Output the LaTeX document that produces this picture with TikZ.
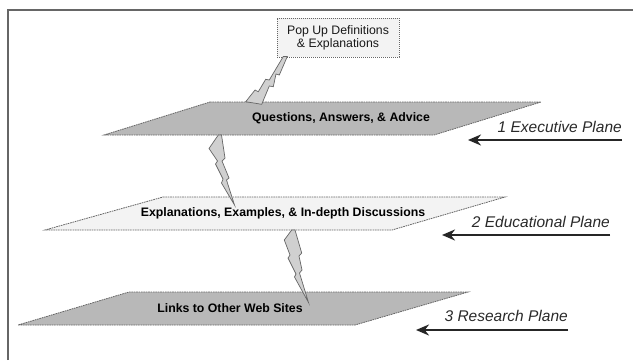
\documentclass[tikz,border=0pt]{standalone}
\usepackage{fontspec}
\setmainfont{Liberation Sans}
\usetikzlibrary{arrows.meta}
\definecolor{planedark}{HTML}{B8B8B8}
\definecolor{planelight}{HTML}{F3F3F3}
\definecolor{boltfill}{HTML}{D0D0D0}
\definecolor{edgegray}{HTML}{666666}
\definecolor{labelgray}{HTML}{2A2A2A}
\tikzset{
  planeedge/.style={draw=edgegray, line width=0.8pt, dash pattern=on 1.6pt off 0.8pt},
  planetext/.style={font=\fontsize{12.3}{14}\selectfont\bfseries, text=black, inner sep=0pt},
  bolt/.style={fill=boltfill, draw=edgegray, line width=0.7pt, line join=miter},
  sidelabel/.style={font=\fontsize{15.5}{18}\selectfont\itshape, text=labelgray, inner sep=0pt, anchor=base east},
  levelarrow/.style={draw=black!85, line width=2.8pt, -{Stealth[length=13pt,width=11pt]}},
  popbox/.style={fill=planelight, draw=edgegray, line width=0.8pt, dash pattern=on 1.2pt off 0.8pt,
    font=\fontsize{12.3}{14}\selectfont, text=black!90, align=center, minimum width=122pt, minimum height=39pt, inner sep=0pt}
}
\begin{document}
\begin{tikzpicture}[x=1pt,y=-1pt]
\useasboundingbox (0,0) rectangle (633,360);
\fill[white] (0,0) rectangle (633,360);
% frame
\draw[gray!80!black, line width=1.6pt] (8,360) -- (8,10) -- (633,10);

% planes
\path[planeedge, fill=planedark] (210,102) -- (541,102) -- (434,135) -- (104,135) -- cycle;
\path[planeedge, fill=planelight] (163,197) -- (505,197) -- (392,230) -- (45,230) -- cycle;
\path[planeedge, fill=planedark] (129,292) -- (468,292) -- (355,325) -- (18,325) -- cycle;

\node[planetext] (q) at (341,118) {Questions, Answers, \& Advice};
\node[planetext] (e) at (283,213) {Explanations, Examples, \& In-depth Discussions};
\node[planetext] (l) at (230,308) {Links to Other Web Sites};

% pop up box
\node[popbox] (pop) at (338,37.5) {Pop Up Definitions\\[-1pt]\& Explanations};

% bolts
\draw[bolt] (287.3,56.5) -- (279.3,75) -- (276,74) -- (273.3,86.7) -- (269.3,86) -- (261.7,104.3)
  -- (245.7,101.7) -- (255,90) -- (258.3,91.7) -- (265.7,79.3) -- (269.3,80) -- (283.3,56.5) -- cycle;
\draw[bolt] (218.3,135) -- (221.5,135) -- (225,158) -- (222,161) -- (229,178) -- (226.5,180) -- (234.5,205)
  -- (221.5,183) -- (223,179) -- (215.5,164) -- (217.5,161) -- (209,148.5) -- cycle;
\draw[bolt] (291.7,230) -- (295,230) -- (301.7,253) -- (299,256) -- (302,270) -- (299.5,273) -- (308.5,302.5)
  -- (294.5,277) -- (296,274) -- (288,258) -- (290,255) -- (284.3,240) -- cycle;

% side labels and arrows
\node[sidelabel] (l1) at (622,132) {1 Executive Plane};
\node[sidelabel] (l2) at (610,227) {2 Educational Plane};
\node[sidelabel] (l3) at (568,321) {3 Research Plane};
\coordinate (a1s) at (622,140); \coordinate (a1e) at (468,140);
\coordinate (a2s) at (610,235); \coordinate (a2e) at (442,235);
\coordinate (a3s) at (568,330); \coordinate (a3e) at (416,330);
\draw[levelarrow] (a1s) -- (a1e);
\draw[levelarrow] (a2s) -- (a2e);
\draw[levelarrow] (a3s) -- (a3e);
\end{tikzpicture}
\end{document}
